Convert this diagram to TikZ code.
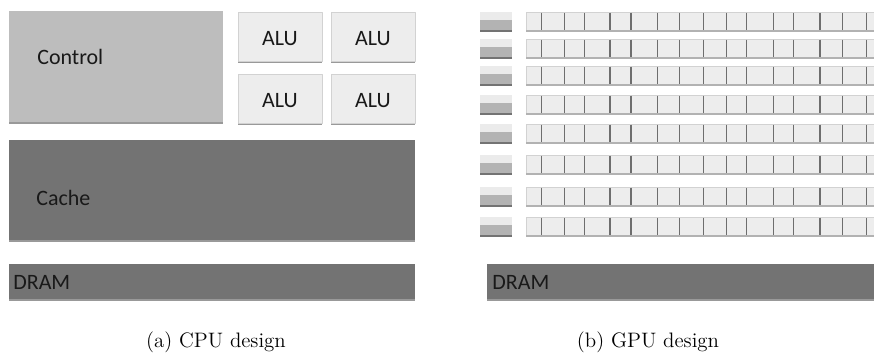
\documentclass[tikz,border=0pt]{standalone}
\usepackage{fontspec}
\newfontfamily\boxfont{Carlito}
\usetikzlibrary{positioning,shadows}

\definecolor{ctrlgray}{HTML}{BDBDBD}
\definecolor{alugray}{HTML}{EDEDED}
\definecolor{cachegray}{HTML}{737373}
\definecolor{celledge}{HTML}{D2D2D2}
\definecolor{cellline}{HTML}{6E6E6E}
\definecolor{ctltop}{HTML}{EBEBEB}
\definecolor{ctlbot}{HTML}{B3B3B3}

\tikzset{
  softshadow/.style={drop shadow={shadow xshift=0pt, shadow yshift=-1.1pt, opacity=0.4, fill=black}},
  lbl/.style={inner sep=0pt, text=black!90, font=\boxfont\fontsize{12.5}{15}\selectfont},
  caption/.style={inner sep=0pt, font=\fontsize{11.9}{14}\selectfont},
}

\begin{document}
\begin{tikzpicture}[x=0.02cm, y=-0.02cm, line join=round]
  \useasboundingbox (0,0) rectangle (874,363);

  % CPU side
  \fill[ctrlgray, softshadow] (9,11) rectangle (223,122);
  \node[lbl, anchor=west] (control) at (37,57) {Control};
  \foreach \i/\x/\y in {1/238/12, 2/331/12, 3/238/74, 4/331/74} {
    \fill[alugray, draw=celledge, line width=0.3pt, softshadow] (\x,\y) rectangle ++(84,49);
    \node[lbl, font=\boxfont\fontsize{12.5}{14}\selectfont] (alu\i) at (\x+42,\y+27) {ALU};
  }
  \fill[cachegray, softshadow] (9,140) rectangle (415,240);
  \node[lbl, anchor=west] (cache) at (36,198) {Cache};
  \fill[cachegray, softshadow] (9,264) rectangle (415,299);
  \node[lbl, anchor=west] (cpudram) at (13,282) {DRAM};
  \node[caption] (capa) at (216,342) {(a) CPU design};

  % GPU side
  \foreach \t in {12,39,66,95,124,155,187,217} {
    \fill[ctltop] (480,\t) rectangle (512,\t+8);
    \fill[ctlbot] (480,\t+8) rectangle (512,\t+19);
    \draw[black!55, line width=0.9pt] (480,\t+19) -- (512,\t+19);
    \fill[alugray, draw=celledge, line width=0.3pt] (526,\t) rectangle (890,\t+19);
    \draw[celledge!85!black, line width=1pt] (526,\t+19) -- (890,\t+19);
    \foreach \d in {541.7,564.3,584.3,610,631,657.3,679.7,703.3,726.7,746.7,773.3,793.3,820,842.3,866.7}
      \draw[cellline, line width=0.6pt] (\d,\t+0.5) -- (\d,\t+18);
  }
  \fill[cachegray, softshadow] (487,264) rectangle (890,299);
  \node[lbl, anchor=west] (gpudram) at (492,282) {DRAM};
  \node[caption] (capb) at (648,342) {(b) GPU design};
\end{tikzpicture}
\end{document}
